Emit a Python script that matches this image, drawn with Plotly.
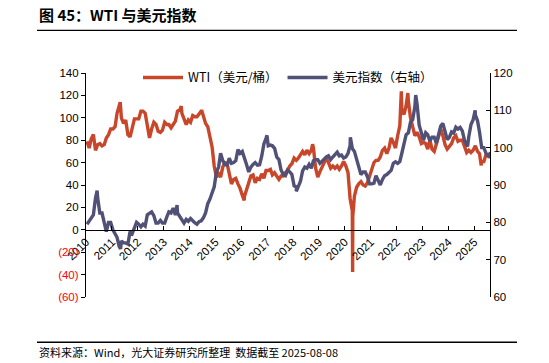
import pandas as pd
import plotly.graph_objects as go

# ---------------- data ----------------
wti_monthly = [
    79, 73, 81, 85, 71, 76, 77, 75, 76, 82, 85, 90,          # 2010
    90, 92, 104, 112, 100, 95, 98, 85, 83, 90, 99, 99,       # 2011
    99, 106, 106, 104, 92, 82, 90, 96, 94, 88, 87, 89,       # 2012
    96, 94, 94, 91, 94, 97, 106, 107, 104, 99, 94, 98,       # 2013
    96, 102, 101, 101, 103, 106, 101, 95, 92, 83, 74, 57,    # 2014
    47, 50, 47, 56, 60, 59, 49, 41, 45, 46, 41, 37,          # 2015
    31, 30, 37, 42, 48, 49, 42, 46, 45, 50, 46, 53,          # 2016
    53, 54, 49, 51, 48, 45, 48, 48, 51, 53, 57, 59,          # 2017
    64, 62, 64, 67, 70, 67, 71, 68, 71, 73, 55, 47,          # 2018
    52, 56, 59, 64, 60, 55, 57, 55, 57, 54, 57, 61,          # 2019
    57, 51, 28, 17, 30, 38, 41, 43, 40, 39, 42, 48,          # 2020
    52, 60, 62, 62, 65, 71, 73, 68, 73, 82, 78, 73,          # 2021
    84, 93, 106, 103, 111, 115, 100, 92, 84, 87, 83, 77,     # 2022
    78, 77, 72, 80, 72, 70, 77, 82, 90, 84, 76, 72,          # 2023
    74, 77, 82, 84, 79, 80, 80, 75, 69, 71, 69, 71,          # 2024
    75, 70, 68, 61, 61, 67, 67, 64,                          # 2025
]
wti_extra_dates = ["2011-04-29", "2013-09-06", "2014-06-20", "2016-02-11",
                   "2018-10-03", "2020-04-20", "2020-04-22", "2022-03-08",
                   "2022-06-08", "2025-04-08", "2025-08-08"]
wti_extra_vals = [113.9, 110.5, 107.0, 26.2, 76.4, -37.6, 12.0, 123.7, 122.1, 57.5, 63.9]

dxy_monthly = [
    79.5, 80.5, 81.0, 82.0, 86.5, 86.5, 82.5, 82.5, 79.5, 77.5, 80.0, 80.0,      # 2010
    78.0, 77.0, 76.0, 73.5, 75.0, 74.5, 74.5, 74.2, 77.5, 77.0, 78.5, 80.0,      # 2011
    79.5, 78.8, 79.5, 79.0, 82.0, 82.5, 82.8, 81.8, 79.8, 79.8, 80.5, 79.8,      # 2012
    79.8, 81.5, 82.8, 82.5, 83.8, 82.0, 82.5, 81.5, 80.5, 79.8, 80.8, 80.3,      # 2013
    81.0, 80.3, 79.9, 79.5, 80.2, 80.4, 81.2, 82.5, 85.0, 86.2, 87.8, 89.5,      # 2014
    93.5, 94.8, 98.5, 96.5, 95.5, 95.3, 97.2, 95.8, 96.0, 96.5, 99.5, 98.5,      # 2015
    99.0, 97.5, 95.5, 93.5, 94.8, 95.5, 96.0, 95.3, 95.4, 97.7, 101.0, 102.5,    # 2016
    100.5, 100.7, 100.5, 99.8, 97.5, 96.8, 94.0, 92.8, 92.5, 94.0, 93.5, 92.8,   # 2017
    89.8, 89.5, 89.8, 91.0, 93.8, 94.8, 94.5, 95.5, 94.5, 96.5, 96.8, 96.8,      # 2018
    95.8, 96.5, 96.8, 97.5, 97.8, 96.8, 97.5, 98.2, 98.8, 97.8, 98.0, 97.2,      # 2019
    97.5, 98.5, 100.5, 99.8, 99.0, 97.0, 94.5, 92.8, 93.5, 93.5, 92.2, 90.3,     # 2020
    90.3, 90.5, 92.5, 91.3, 90.0, 91.5, 92.5, 92.8, 93.5, 93.9, 95.8, 96.2,      # 2021
    95.8, 96.3, 98.5, 101.0, 103.5, 104.0, 106.8, 107.5, 111.0, 111.8, 106.0, 104.2,  # 2022
    102.0, 104.0, 103.5, 101.8, 102.8, 102.8, 101.2, 103.5, 105.8, 106.5, 104.0, 102.2,  # 2023
    102.8, 104.2, 103.9, 105.5, 105.0, 105.4, 104.5, 102.0, 100.8, 103.0, 106.2, 107.5,  # 2024
    108.8, 107.2, 104.2, 100.0, 100.0, 98.5, 97.8, 98.8,                            # 2025
]
dxy_extra_dates = ["2010-06-07", "2011-05-04", "2013-07-09", "2016-12-28",
                   "2018-02-15", "2020-03-19", "2022-09-27", "2024-09-27",
                   "2025-01-13", "2025-08-08"]
dxy_extra_vals = [88.5, 72.9, 84.6, 103.3, 88.3, 102.8, 114.1, 100.3, 110.0, 98.2]

left_tickvals = [-60, -40, -20, 0, 20, 40, 60, 80, 100, 120, 140]
left_ticktext = ["(60)", "(40)", "(20)", "0", "20", "40", "60", "80", "100", "120", "140"]
right_tickvals = [60, 70, 80, 90, 100, 110, 120]

title_text = "<b>图 45：WTI 与美元指数</b>"
source_text = "资料来源：Wind，光大证券研究所整理  数据截至 2025-08-08"
name_wti = "WTI（美元/桶）"
name_dxy = "美元指数（右轴）"

# ---------------- build series ----------------
def build(monthly, extra_dates, extra_vals):
    dates = [pd.Timestamp(year=2010 + i // 12, month=i % 12 + 1, day=15) for i in range(len(monthly))]
    s = pd.Series(monthly, index=dates)
    e = pd.Series(extra_vals, index=pd.to_datetime(extra_dates))
    return pd.concat([s, e]).sort_index()

wti = build(wti_monthly, wti_extra_dates, wti_extra_vals)
dxy = build(dxy_monthly, dxy_extra_dates, dxy_extra_vals)

RED = "#C8472B"
NAVY = "#515177"
FONT = "Liberation Sans, Arial, sans-serif"
CJK = "Noto Sans CJK SC, Liberation Sans, sans-serif"

fig = go.Figure()
fig.add_trace(go.Scatter(x=wti.index, y=wti.values, mode="lines", name=name_wti,
                         line=dict(color=RED, width=3.4), yaxis="y"))
fig.add_trace(go.Scatter(x=dxy.index, y=dxy.values, mode="lines", name=name_dxy,
                         line=dict(color=NAVY, width=3.4), yaxis="y2"))

ticktext_colored = [f"<span style='color:#FF0000'>{t}</span>" if v < 0 else t
                    for v, t in zip(left_tickvals, left_ticktext)]

rule_left, rule_right = -0.1213, 1.0668
rule_mid = (rule_left + rule_right) / 2

fig.update_layout(
    width=549, height=363,
    margin=dict(l=86, r=59, t=73, b=66),
    paper_bgcolor="white", plot_bgcolor="white",
    font=dict(family=FONT, size=11.5, color="#000000"),
    showlegend=True,
    legend=dict(orientation="h", x=0.5, xanchor="center", y=0.978, yanchor="middle",
                font=dict(size=12.5, family=CJK),
                bgcolor="rgba(0,0,0,0)", itemwidth=40, tracegroupgap=0),
    xaxis=dict(
        type="date",
        range=["2010-01-01", "2025-08-10"],
        anchor="free", position=0.3,
        showline=True, linecolor="#000000", linewidth=1.2,
        ticks="inside", ticklen=4, tickcolor="#000000",
        tick0="2010-01-01", dtick="M12", tickformat="%Y",
        tickangle=-45, showgrid=False, zeroline=False,
        tickfont=dict(size=11.5),
    ),
    yaxis=dict(
        range=[-60, 140], showline=True, linecolor="#000000", linewidth=1.2,
        ticks="outside", ticklen=4, tickcolor="#000000",
        tickvals=left_tickvals, ticktext=ticktext_colored,
        showgrid=False, zeroline=False, tickfont=dict(size=11.5),
    ),
    yaxis2=dict(
        range=[60, 120], overlaying="y", side="right", showline=True,
        linecolor="#000000", linewidth=1.2,
        ticks="inside", ticklen=4, tickcolor="#000000",
        tickvals=right_tickvals, showgrid=False, zeroline=False,
        tickfont=dict(size=11.5),
    ),
    shapes=[
        dict(type="line", xref="paper", yref="paper", x0=rule_left, x1=rule_right, y0=1.19, y1=1.19,
             line=dict(color="#000000", width=1.2)),
        dict(type="line", xref="paper", yref="paper", x0=rule_left, x1=rule_right, y0=-0.2009, y1=-0.2009,
             line=dict(color="#000000", width=1.2)),
    ],
    annotations=[
        dict(text=title_text, xref="paper", yref="paper", x=rule_left, y=1.259,
             xanchor="left", yanchor="middle", showarrow=False,
             font=dict(size=15, family="Noto Sans CJK SC, sans-serif", color="#000000")),
        dict(text=source_text, xref="paper", yref="paper", x=rule_left, y=-0.2455,
             xanchor="left", yanchor="middle", showarrow=False,
             font=dict(size=11, family="Noto Sans CJK SC, sans-serif", color="#000000")),
        # thin black bars used as the title underline / source overline
        dict(text=" ", xref="paper", yref="paper", x=rule_mid, y=1.19,
             xanchor="center", yanchor="middle", showarrow=False,
             width=480, height=1, bgcolor="#000000", borderpad=0, borderwidth=0,
             font=dict(size=1, color="#000000")),
        dict(text=" ", xref="paper", yref="paper", x=rule_mid, y=-0.2009,
             xanchor="center", yanchor="middle", showarrow=False,
             width=480, height=1, bgcolor="#000000", borderpad=0, borderwidth=0,
             font=dict(size=1, color="#000000")),
    ],
)

fig.write_html("out.html", config={"displayModeBar": False},
               post_script="document.body.style.margin='0';")
